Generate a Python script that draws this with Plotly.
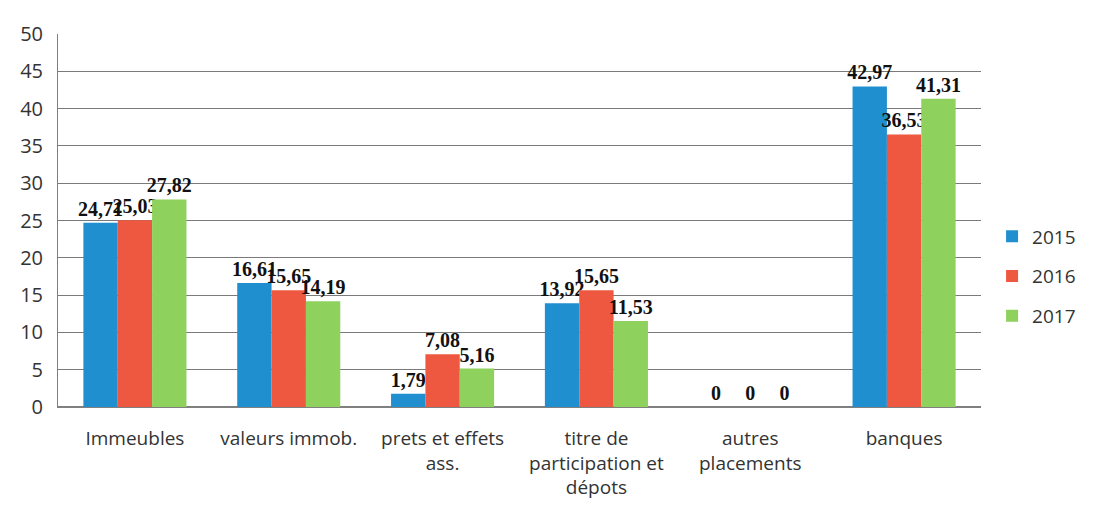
import plotly.graph_objects as go

# categories and series values
categories = ["Immeubles", "valeurs immob.", "prets et effets<br>ass.",
              "titre de<br>participation et<br>dépots", "autres<br>placements", "banques"]
years = ["2015", "2016", "2017"]
values_2015 = [24.71, 16.61, 1.79, 13.92, 0, 42.97]
values_2016 = [25.03, 15.65, 7.08, 15.65, 0, 36.53]
values_2017 = [27.82, 14.19, 5.16, 11.53, 0, 41.31]
y_ticks = [0, 5, 10, 15, 20, 25, 30, 35, 40, 45, 50]

colors = ["#1f8fcf", "#ee5841", "#8ed15c"]
series = [values_2015, values_2016, values_2017]


def fr(v):
    # French decimal comma, integer zero shown as 0
    return "0" if v == 0 else f"{v:.2f}".replace(".", ",")


fig = go.Figure()
for year, vals, col in zip(years, series, colors):
    fig.add_trace(go.Bar(
        x=categories,
        y=vals,
        name=year,
        legendgroup=year,
        marker=dict(color=col, line=dict(width=0)),
        text=[fr(v) for v in vals],
        textposition="outside",
        constraintext="none",
        cliponaxis=False,
        textfont=dict(family="Liberation Serif", size=20, color="#111111", weight="bold"),
    ))

# page body has an 8px margin, so the figure is 8px smaller than the window
fig.update_layout(
    width=1085,
    height=504,
    barmode="group",
    bargap=0.33,
    bargroupgap=0,
    plot_bgcolor="white",
    paper_bgcolor="white",
    font=dict(family="Open Sans", size=16, color="#333333"),
    margin=dict(t=19, b=105, l=50, r=106),
    showlegend=True,
    legend=dict(
        x=1.012, xanchor="left",
        y=0.35, yanchor="middle",
        font=dict(size=19, color="#333333"),
        tracegroupgap=12,
        itemwidth=30,
    ),
)
fig.update_xaxes(
    showgrid=False,
    showline=True,
    linecolor="#808080",
    linewidth=1,
    ticks="",
    tickfont=dict(size=19, color="#333333"),
    ticklabelstandoff=14,
)
fig.update_yaxes(
    range=[0, 50],
    tickvals=y_ticks,
    showgrid=True,
    gridcolor="#7a7a7a",
    gridwidth=1,
    showline=True,
    linecolor="#808080",
    linewidth=1,
    zeroline=True,
    zerolinecolor="#808080",
    tickfont=dict(size=20, color="#333333"),
    ticklabelstandoff=10,
)

fig.write_html("out.html")
